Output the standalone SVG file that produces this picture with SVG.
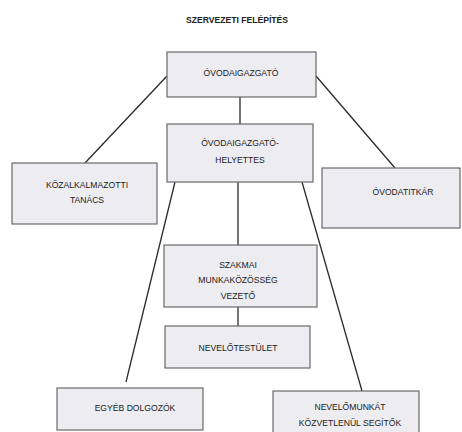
<svg xmlns="http://www.w3.org/2000/svg" width="462" height="432" viewBox="0 0 462 432">
<style>
.box{fill:#ececf1;stroke:#6a6a6a;stroke-width:1.2}
.t{font-family:"Liberation Sans",Arial,sans-serif;font-size:8.6px;fill:#222;text-anchor:middle;dominant-baseline:central}
.ttl{font-family:"Liberation Sans",Arial,sans-serif;font-size:8.6px;font-weight:bold;fill:#222;text-anchor:middle;dominant-baseline:central}
.c{stroke:#2a2a2a;stroke-width:1.3;fill:none}
</style>
<rect width="462" height="432" fill="#ffffff"/>
<text class="ttl" x="237" y="20">SZERVEZETI FELÉPÍTÉS</text>
<g id="connectors">
<line class="c" x1="167" y1="76" x2="85" y2="163"/>
<line class="c" x1="316" y1="76" x2="395" y2="168"/>
<line class="c" x1="240" y1="97" x2="240" y2="124"/>
<line class="c" x1="175" y1="182" x2="126" y2="382"/>
<line class="c" x1="238" y1="182" x2="238" y2="245"/>
<line class="c" x1="302" y1="182" x2="362" y2="391"/>
<line class="c" x1="238" y1="307" x2="238" y2="326"/>
</g>
<g id="n-ovodaigazgato">
<rect class="box" x="167" y="52" width="149" height="45"/>
<text class="t" x="241" y="73">ÓVODAIGAZGATÓ</text>
</g>
<g id="n-helyettes">
<rect class="box" x="167" y="124" width="146" height="58"/>
<text class="t" x="240" y="143">ÓVODAIGAZGATÓ-</text>
<text class="t" x="240" y="160">HELYETTES</text>
</g>
<g id="n-kozalkalmazotti">
<rect class="box" x="12" y="163" width="145" height="61"/>
<text class="t" x="87" y="185">KÖZALKALMAZOTTI</text>
<text class="t" x="87" y="200">TANÁCS</text>
</g>
<g id="n-ovodatitkar">
<rect class="box" x="322" y="168" width="138" height="60"/>
<text class="t" x="403" y="192">ÓVODATITKÁR</text>
</g>
<g id="n-szakmai">
<rect class="box" x="164" y="245" width="153" height="62"/>
<text class="t" x="238" y="265">SZAKMAI</text>
<text class="t" x="238" y="280">MUNKAKÖZÖSSÉG</text>
<text class="t" x="238" y="296">VEZETŐ</text>
</g>
<g id="n-nevelotestulet">
<rect class="box" x="165" y="326" width="145" height="42"/>
<text class="t" x="238" y="348">NEVELŐTESTÜLET</text>
</g>
<g id="n-egyeb">
<rect class="box" x="57" y="388" width="146" height="42"/>
<text class="t" x="135" y="408">EGYÉB DOLGOZÓK</text>
</g>
<g id="n-nevelomunkat">
<rect class="box" x="273" y="391" width="146" height="45"/>
<text class="t" x="350" y="407">NEVELŐMUNKÁT</text>
<text class="t" x="350" y="423">KÖZVETLENÜL SEGÍTŐK</text>
</g>
</svg>
